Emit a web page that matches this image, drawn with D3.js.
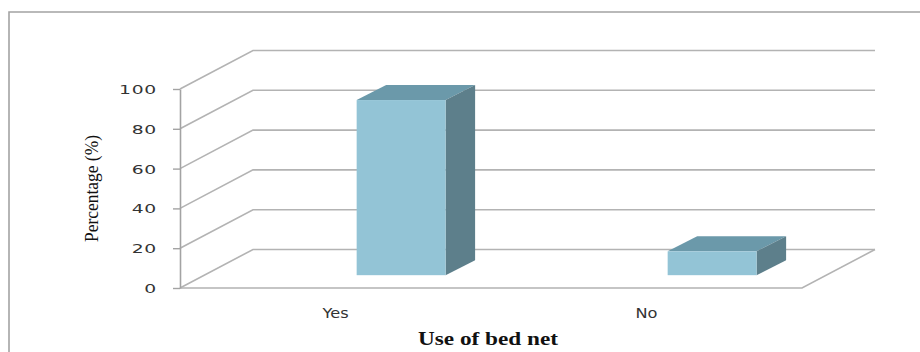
<!DOCTYPE html>
<html>
<head>
<meta charset="utf-8">
<script src="https://cdn.jsdelivr.net/npm/d3@7"></script>
<style>
  html, body { margin: 0; padding: 0; background: #fff; }
  svg { display: block; }
</style>
</head>
<body>
<svg id="chart" width="920" height="352"></svg>
<script>
// Use of bed net (percentage of respondents)
const categories = ["Yes", "No"];
const percentages = [88, 12];
const yTicks = [0, 20, 40, 60, 80, 100];

const svg = d3.select("#chart");

// Front plane of the 3-D box and its depth offset
const front = { left: 180, right: 802, top: 89, bottom: 288 };
const depth = { dx: 73, dy: -38.5 };

const x = d3.scaleBand().domain(categories).range([front.left, front.right]);
const y = d3.scaleLinear().domain([0, 100]).range([front.bottom, front.top]);

// Outer frame
svg.append("path")
  .attr("d", "M9,352 L9,12 L920,12")
  .attr("fill", "none").attr("stroke", "#a3a3a3").attr("stroke-width", 1.6);

const grid = svg.append("g").attr("fill", "none").attr("stroke", "#b3b3b3").attr("stroke-width", 1.6);

// Gridlines: a diagonal on the side wall, then along the back wall
yTicks.forEach(t => {
  const yy = y(t);
  grid.append("path")
    .attr("d", `M${front.left},${yy} L${front.left + depth.dx},${yy + depth.dy} L${front.right + depth.dx},${yy + depth.dy}`);
});

// Floor front edge and right side edge
grid.append("path")
  .attr("d", `M${front.left},${front.bottom} L${front.right},${front.bottom} L${front.right + depth.dx},${front.bottom + depth.dy}`);

// Vertical axis with ticks
const axis = svg.append("g").attr("transform", `translate(${front.left},0)`)
  .call(d3.axisLeft(y).tickValues(yTicks).tickSize(7).tickPadding(23).tickSizeOuter(0));
axis.select(".domain").attr("stroke", "#a3a3a3").attr("stroke-width", 1.6);
axis.selectAll(".tick line").attr("stroke", "#a3a3a3").attr("stroke-width", 1.4);
// wide, low digits for the value labels
axis.selectAll(".tick text")
  .attr("font-family", "'DejaVu Sans', Verdana, sans-serif")
  .attr("font-size", 12.5).attr("fill", "#333").attr("dy", "0.36em")
  .attr("x", null)
  .attr("transform", "translate(-23,0) scale(1.5,1)")
  .attr("letter-spacing", 0.5);

// Bars as 3-D boxes placed in the middle of the depth
const barFront = { t: 0.333 };
const barDepth = { dx: 29.5, dy: -15 };
const offX = depth.dx * barFront.t, offY = depth.dy * barFront.t;

const colors = { front: "#93c4d6", top: "#6b99aa", side: "#5d7f8b" };

categories.forEach((c, i) => {
  const v = percentages[i];
  const x0 = x(c) + x.bandwidth() * 0.568 + offX - 24.3;
  const x1 = x0 + x.bandwidth() * 0.286;
  const yTop = y(v) + offY;
  const yBot = y(0) + offY;
  const g = svg.append("g").attr("class", "bar");
  // top face
  g.append("path")
    .attr("d", `M${x0},${yTop} L${x0 + barDepth.dx},${yTop + barDepth.dy} L${x1 + barDepth.dx},${yTop + barDepth.dy} L${x1},${yTop} Z`)
    .attr("fill", colors.top);
  // side face
  g.append("path")
    .attr("d", `M${x1},${yTop} L${x1 + barDepth.dx},${yTop + barDepth.dy} L${x1 + barDepth.dx},${yBot + barDepth.dy} L${x1},${yBot} Z`)
    .attr("fill", colors.side);
  // front face
  g.append("rect")
    .attr("x", x0).attr("y", yTop).attr("width", x1 - x0).attr("height", yBot - yTop)
    .attr("fill", colors.front);
});

// Category labels
svg.append("g").selectAll("text").data(categories).join("text")
  .attr("transform", d => `translate(${x(d) + x.bandwidth() / 2},318) scale(1.2,1)`)
  .attr("text-anchor", "middle")
  .attr("font-family", "'DejaVu Sans', Verdana, sans-serif")
  .attr("font-size", 13.5).attr("fill", "#333")
  .text(d => d);

// Axis titles
svg.append("text")
  .attr("transform", "translate(98,188.5) rotate(-90)")
  .attr("text-anchor", "middle")
  .attr("font-family", "'Liberation Serif', 'Times New Roman', serif")
  .attr("font-size", 18).attr("fill", "#111")
  .attr("textLength", 107).attr("lengthAdjust", "spacingAndGlyphs")
  .text("Percentage (%)");

svg.append("text")
  .attr("x", 488).attr("y", 345)
  .attr("text-anchor", "middle")
  .attr("font-family", "'Liberation Serif', 'Times New Roman', serif")
  .attr("font-weight", "bold")
  .attr("font-size", 18.5).attr("fill", "#111")
  .attr("textLength", 140).attr("lengthAdjust", "spacingAndGlyphs")
  .text("Use of bed net");
</script>
</body>
</html>
